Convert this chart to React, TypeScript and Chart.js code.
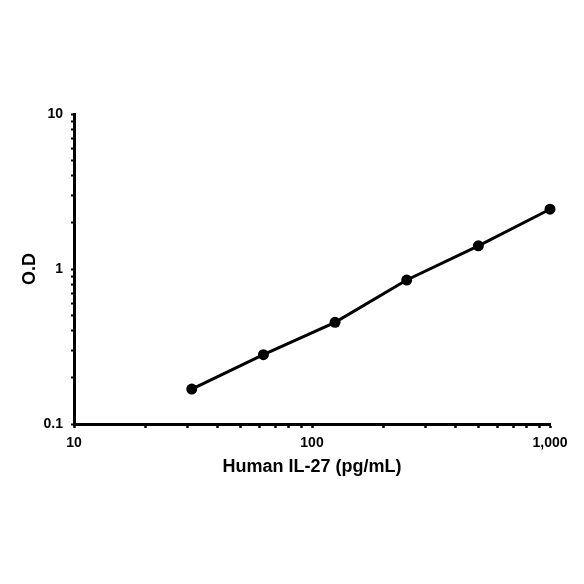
import { useEffect, useRef } from 'react';
import { Chart, registerables } from 'chart.js';

Chart.register(...registerables);

// concentration (pg/mL) vs optical density
const concentrations = [31.25, 62.5, 125, 250, 500, 1000];
const odValues = [0.168, 0.28, 0.453, 0.849, 1.41, 2.43];

const xTickValues = [10, 20, 30, 40, 50, 60, 70, 80, 90, 100, 200, 300, 400, 500, 600, 700, 800, 900, 1000];
const xTickLabels: Record<number, string> = { 10: '10', 100: '100', 1000: '1,000' };
const yTickValues = [0.1, 0.2, 0.3, 0.4, 0.5, 0.6, 0.7, 0.8, 0.9, 1, 2, 3, 4, 5, 6, 7, 8, 9, 10];
const yTickLabels: Record<number, string> = { 0.1: '0.1', 1: '1', 10: '10' };

const FONT = '"Liberation Sans", Arial, sans-serif';

export default function App() {
  const canvasRef = useRef<HTMLCanvasElement>(null);
  const chartRef = useRef<Chart | null>(null);

  useEffect(() => {
    if (!canvasRef.current) return;

    chartRef.current = new Chart(canvasRef.current, {
      type: 'line',
      data: {
        datasets: [
          {
            data: concentrations.map((c, i) => ({ x: c, y: odValues[i] })),
            borderColor: '#000',
            backgroundColor: '#000',
            borderWidth: 3,
            pointRadius: 5.5,
            pointBackgroundColor: '#000',
            pointBorderWidth: 0,
            tension: 0,
            clip: false,
          },
        ],
      },
      options: {
        animation: false,
        responsive: true,
        maintainAspectRatio: false,
        layout: { padding: { left: 19.2, top: 114, right: 34, bottom: 106.2 } },
        plugins: { legend: { display: false }, tooltip: { enabled: false } },
        scales: {
          x: {
            type: 'logarithmic',
            min: 10,
            max: 1000,
            afterBuildTicks: (scale: any) => {
              scale.ticks = xTickValues.map((v) => ({ value: v }));
            },
            afterFit: (scale: any) => {
              scale.height = 53.8;
            },
            ticks: {
              autoSkip: false,
              maxRotation: 0,
              padding: 7,
              color: '#000',
              font: { family: FONT, size: 14, weight: 'bold' },
              callback: (v: any) => xTickLabels[Number(v)] ?? '',
            },
            grid: {
              drawOnChartArea: false,
              drawTicks: true,
              tickLength: 4,
              tickWidth: 2.5,
              tickColor: '#000',
            },
            border: { display: true, color: '#000', width: 3 },
            title: {
              display: true,
              text: 'Human IL-27 (pg/mL)',
              color: '#000',
              padding: 0,
              font: { family: FONT, size: 18, weight: 'bold' },
            },
          },
          y: {
            type: 'logarithmic',
            min: 0.1,
            max: 10,
            afterBuildTicks: (scale: any) => {
              scale.ticks = yTickValues.map((v) => ({ value: v }));
            },
            afterFit: (scale: any) => {
              scale.width = 54.8;
            },
            ticks: {
              autoSkip: false,
              padding: 8,
              color: '#000',
              font: { family: FONT, size: 14, weight: 'bold' },
              callback: (v: any) => yTickLabels[Number(v)] ?? '',
            },
            grid: {
              drawOnChartArea: false,
              drawTicks: true,
              tickLength: 3,
              tickWidth: 2,
              tickColor: '#000',
            },
            border: { display: true, color: '#000', width: 3 },
            title: {
              display: true,
              text: 'O.D',
              color: '#000',
              padding: 0,
              font: { family: FONT, size: 18, weight: 'bold' },
            },
          },
        },
      },
    });

    return () => {
      chartRef.current?.destroy();
      chartRef.current = null;
    };
  }, []);

  return (
    <div style={{ position: 'fixed', left: 0, top: 0, width: 584, height: 584, background: '#fff' }}>
      <canvas ref={canvasRef}></canvas>
    </div>
  );
}
